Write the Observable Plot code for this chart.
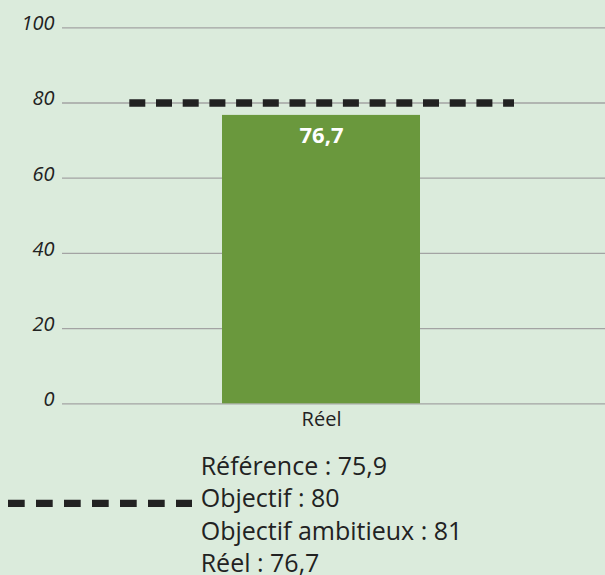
<!DOCTYPE html>
<html>
<head>
<meta charset="utf-8">
<script src="https://cdn.jsdelivr.net/npm/d3@7"></script>
<script src="https://cdn.jsdelivr.net/npm/@observablehq/plot@0.6"></script>
<style>
  html, body { margin: 0; padding: 0; background: #dbebdc; }
  body { width: 605px; height: 575px; overflow: hidden; position: relative; font-family: "Open Sans", sans-serif; }
  #chart { position: absolute; left: 0; top: 0; }
  #legend { position: absolute; left: 0; top: 449px; width: 605px; }
  .row { position: relative; height: 32.3px; line-height: 32.3px; padding-left: 200.7px; font-size: 25px; color: #222; white-space: nowrap; }
  .row svg { position: absolute; left: 0; top: 0; }
</style>
</head>
<body>
<div id="chart"></div>
<div id="legend"></div>
<script>
const categories = ["Réel"];
const values = [76.7];
const objectif = 80;
const yTicks = [0, 20, 40, 60, 80, 100];
const legendLabels = ["Référence : 75,9", "Objectif : 80", "Objectif ambitieux : 81", "Réel : 76,7"];
const legendDashedIndex = 1;

const fmt = v => v.toLocaleString("fr-FR");
const data = categories.map((c, i) => ({cat: c, value: values[i]}));

const W = 605, H = 440, ML = 62, MR = 24;
const chart = Plot.plot({
  width: W,
  height: H,
  marginLeft: ML,
  marginRight: MR,
  marginTop: 27.3,
  marginBottom: 36.7,
  style: {background: "transparent", fontFamily: "Open Sans, sans-serif", fontSize: "20px", color: "#222"},
  x: {domain: categories, padding: 0.4457, label: null},
  y: {domain: [0, 100], label: null},
  marks: [
    Plot.ruleY(yTicks, {stroke: "#a3a3a3", strokeWidth: 1.3, insetRight: -MR}),
    Plot.barY(data, {x: "cat", y: "value", fill: "#6a983d"}),
    Plot.text(data, {x: "cat", y: "value", text: d => fmt(d.value), dy: 21, fill: "white", fontWeight: "bold", fontSize: 22}),
    Plot.ruleY([objectif], {stroke: "#222", strokeWidth: 7.7, strokeDasharray: "16,10.7", insetLeft: 67.3, insetRight: 67}),
    Plot.axisY({ticks: yTicks, tickSize: 0, tickPadding: 8, fontSize: 20, fontStyle: "italic", dy: -4, label: null}),
    Plot.axisX({tickSize: 0, tickPadding: 8, fontSize: 20, label: null})
  ]
});
d3.select(chart).selectAll('g[aria-label$="tick label"], g[aria-label$="tick label"] text').style("font-size", "20px");
document.getElementById("chart").appendChild(chart);

const legend = document.getElementById("legend");
legendLabels.forEach((t, i) => {
  const row = document.createElement("div");
  row.className = "row";
  row.textContent = t;
  if (i === legendDashedIndex) {
    const ns = "http://www.w3.org/2000/svg";
    const s = document.createElementNS(ns, "svg");
    s.setAttribute("width", 200);
    s.setAttribute("height", 33);
    const l = document.createElementNS(ns, "line");
    l.setAttribute("x1", 8); l.setAttribute("x2", 192);
    l.setAttribute("y1", 22.4); l.setAttribute("y2", 22.4);
    l.setAttribute("stroke", "#222");
    l.setAttribute("stroke-width", 7.3);
    l.setAttribute("stroke-dasharray", "16.7,11.3");
    s.appendChild(l);
    row.appendChild(s);
  }
  legend.appendChild(row);
});
</script>
</body>
</html>
